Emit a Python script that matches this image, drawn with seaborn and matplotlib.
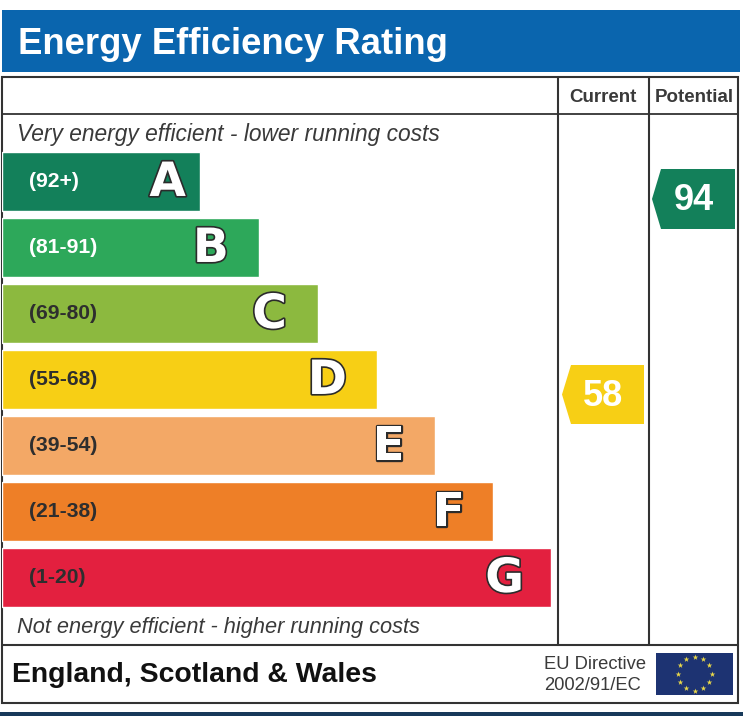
import numpy as np
import pandas as pd
import matplotlib
matplotlib.use("Agg")
import matplotlib.pyplot as plt
import matplotlib.patheffects as pe
from matplotlib.patches import Polygon, Rectangle
import seaborn as sns

# values
bandas = ["A", "B", "C", "D", "E", "F", "G"]
rangos = ["(92+)", "(81-91)", "(69-80)", "(55-68)", "(39-54)", "(21-38)", "(1-20)"]
largos = [198, 257, 316, 375, 433, 491, 549]
colores = ["#13805A", "#2DA85A", "#8CB93F", "#F7CF15", "#F3A866", "#EE7F27", "#E3203F"]
etiquetas_col = ["Current", "Potential"]
puntuaciones = [58, 94]
color_puntuacion = ["#F7CF15", "#13805A"]

W, H = 743, 716
FUENTE = "Liberation Sans"
GRIS = "#3A3A3A"

sns.set_theme(style="white")
plt.rcParams["font.family"] = [FUENTE, "DejaVu Sans"]

fig = plt.figure(figsize=(W / 100, H / 100), dpi=100, facecolor="white")

# capa de fondo en pixeles
fondo = fig.add_axes([0, 0, 1, 1])
fondo.set_xlim(0, W)
fondo.set_ylim(H, 0)
fondo.axis("off")

fondo.add_patch(Rectangle((2, 10), 738, 62, color="#0A65AE", lw=0))
fondo.add_patch(Rectangle((0, 712), W, 4, color="#17395A", lw=0))
fondo.text(18, 44, "Energy Efficiency Rating", color="white", fontsize=26.3,
           fontweight="bold", va="center", ha="left")

# marco de la tabla
fondo.add_patch(Rectangle((2, 76.5), 736, 626, fill=False, ec="#333333", lw=1.5))
fondo.plot([2, 738], [113.5, 113.5], color="#333333", lw=1.3)
fondo.plot([2, 738], [645, 645], color="#333333", lw=1.5)
fondo.plot([558, 558], [77, 645], color="#333333", lw=1.5)
fondo.plot([649, 649], [77, 645], color="#333333", lw=1.5)

# barras con seaborn
ax = fig.add_axes([2 / W, 1 - 610.5 / H, (W - 2) / W, 462 / H])
ax.patch.set_alpha(0)
df = pd.DataFrame({"banda": bandas, "largo": largos})
sns.barplot(data=df, y="banda", x="largo", hue="banda", palette=colores,
            legend=False, width=0.894, saturation=1, ax=ax)
ax.set_xlim(0, W - 2)
ax.set_ylim(6.5, -0.5)
ax.axis("off")

contorno = [pe.withStroke(linewidth=2.4, foreground="#2B2B2B")]
margen_letra = [14, 30, 31, 30, 30, 28, 27]
for i, (letra, rango, largo) in enumerate(zip(bandas, rangos, largos)):
    ax.text(27, i, rango, color="white" if i < 2 else "#2E2E2E",
            fontsize=15.2, fontweight="bold", va="center", ha="left")
    ax.text(largo - margen_letra[i], i + 0.03, letra, color="white", fontsize=34, fontweight="bold",
            family="DejaVu Sans", va="center", ha="right", path_effects=contorno)

# textos
fondo.text(17, 134, "Very energy efficient - lower running costs", style="italic",
           fontsize=16.4, color=GRIS, va="center")
fondo.text(17, 627.5, "Not energy efficient - higher running costs", style="italic",
           fontsize=15.65, color=GRIS, va="center")
for x, texto in zip([602.5, 694.5], etiquetas_col):
    fondo.text(x, 98, texto, fontsize=13.5, fontweight="bold", color=GRIS, ha="center", va="center")
fondo.text(12, 674.5, "England, Scotland & Wales", fontsize=20.45, fontweight="bold",
           color="#111111", va="center")
fondo.text(544, 664.5, "EU Directive", fontsize=13.2, color=GRIS, va="center")
fondo.text(544, 685, "2002/91/EC", fontsize=13.2, color=GRIS, va="center")

# flechas de puntuacion
for (x0, x1, y0, y1), valor, color in zip([(562, 644, 365, 424), (652, 735, 169, 229)],
                                          puntuaciones, color_puntuacion):
    ym = (y0 + y1) / 2
    fondo.add_patch(Polygon([(x0, ym), (x0 + 9, y0), (x1, y0), (x1, y1), (x0 + 9, y1)],
                            closed=True, color=color, lw=0, zorder=5))
    fondo.text((x0 + x1) / 2 + 0.5, ym + 2, str(valor), color="white", fontsize=26,
               fontweight="bold", ha="center", va="center", zorder=6)

# bandera
fondo.add_patch(Rectangle((656, 653), 77, 42, color="#1D3372", lw=0))
ang = np.deg2rad(np.arange(0, 360, 30))
fondo.scatter(694.5 + 17 * np.cos(ang), 673.5 + 17 * np.sin(ang), marker="*", s=18,
              color="#E9D84A", linewidths=0, zorder=5)

fig.savefig("out.png", dpi=100)
